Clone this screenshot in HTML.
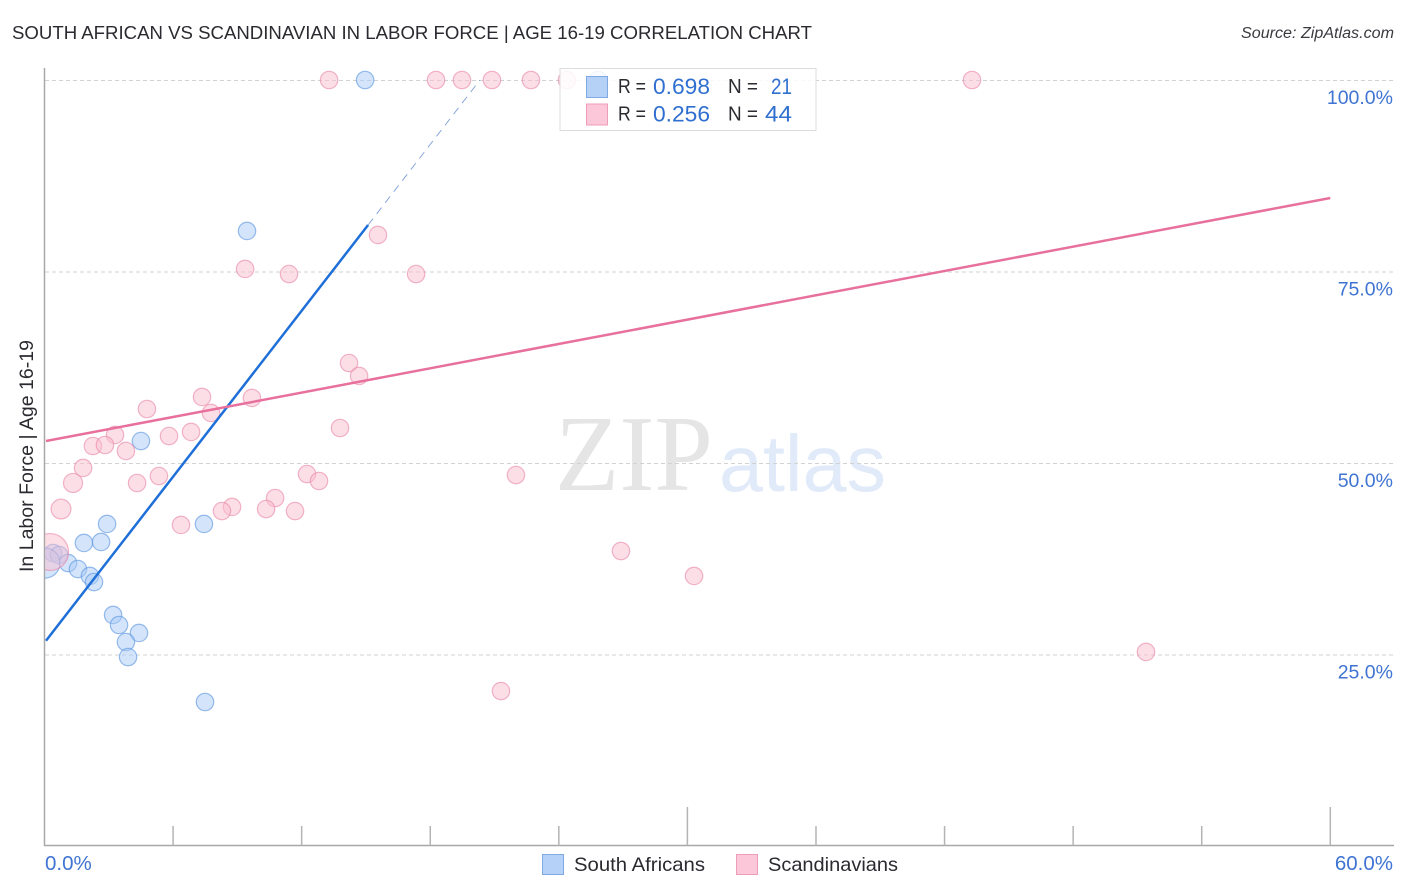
<!DOCTYPE html>
<html lang="en">
<head>
<meta charset="utf-8">
<title>South African vs Scandinavian in Labor Force | Age 16-19 Correlation Chart</title>
<style>
html,body{margin:0;padding:0;background:#fff;width:1406px;height:892px;overflow:hidden}
svg{display:block;font-family:"Liberation Sans",sans-serif}
</style>
</head>
<body>
<svg id="chart" xmlns="http://www.w3.org/2000/svg" width="1406" height="892" viewBox="0 0 1406 892">
  <defs>
    <clipPath id="plot-clip"><rect x="45" y="60" width="1349" height="786"></rect></clipPath>
  </defs>
  <rect width="1406" height="892" fill="#fff"></rect>
  <text x="12" y="39" font-size="18.5" fill="#2a2a30" textLength="800" lengthAdjust="spacingAndGlyphs">SOUTH AFRICAN VS SCANDINAVIAN IN LABOR FORCE | AGE 16-19 CORRELATION CHART</text>
  <text x="1241" y="38" font-size="15.5" font-style="italic" fill="#3a3a40" textLength="153" lengthAdjust="spacingAndGlyphs">Source: ZipAtlas.com</text>
  <g>
    <text x="555" y="490" font-family="'Liberation Serif',serif" font-size="108" fill="#e5e5e5" textLength="158" lengthAdjust="spacingAndGlyphs">ZIP</text>
    <text x="719" y="491" font-size="80" fill="#e0eaf9" textLength="167" lengthAdjust="spacingAndGlyphs">atlas</text>
  </g>
  <g id="grid"></g>
  <g id="axes"></g>
  <g id="points" clip-path="url(#plot-clip)"></g>
  <g id="trends"></g>
  <g id="labels"></g>
  <text transform="translate(33,572) rotate(-90)" font-size="19" fill="#2a2a30" textLength="232" lengthAdjust="spacingAndGlyphs">In Labor Force | Age 16-19</text>

  <g>
    <rect x="560" y="68.5" width="256" height="62" fill="#fff" fill-opacity="0.86" stroke="#dcdcdc" stroke-width="1"></rect>
    <rect x="586.5" y="76.5" width="21" height="21" fill="#a9c9f5" fill-opacity="0.85" stroke="#7fa9e4" stroke-width="1"></rect>
    <rect x="586.5" y="104" width="21" height="21" fill="#fcc8d9" stroke="#ee9db8" stroke-width="1"></rect>
    <g font-size="20" fill="#2a2a30">
      <text x="618" y="93" textLength="28" lengthAdjust="spacingAndGlyphs">R =</text>
      <text x="728" y="93" textLength="30" lengthAdjust="spacingAndGlyphs">N =</text>
      <text x="618" y="120.5" textLength="28" lengthAdjust="spacingAndGlyphs">R =</text>
      <text x="728" y="120.5" textLength="30" lengthAdjust="spacingAndGlyphs">N =</text>
    </g>
    <g font-size="22" fill="#2f6fd0">
      <text x="653" y="94" textLength="57" lengthAdjust="spacingAndGlyphs">0.698</text>
      <text x="771" y="94" textLength="21" lengthAdjust="spacingAndGlyphs">21</text>
      <text x="653" y="121.5" textLength="57" lengthAdjust="spacingAndGlyphs">0.256</text>
      <text x="765" y="121.5" textLength="27" lengthAdjust="spacingAndGlyphs">44</text>
    </g>
  </g>

  <g>
    <rect x="542.5" y="854.5" width="21" height="20" fill="#b5d1f7" stroke="#7fa9e4" stroke-width="1"></rect>
    <text x="574" y="871" font-size="19.5" fill="#2a2a30" textLength="131" lengthAdjust="spacingAndGlyphs">South Africans</text>
    <rect x="736.5" y="854.5" width="21" height="20" fill="#fcc8d9" stroke="#ee9db8" stroke-width="1"></rect>
    <text x="768" y="871" font-size="19.5" fill="#2a2a30" textLength="130" lengthAdjust="spacingAndGlyphs">Scandinavians</text>
  </g>
</svg>
<script>
// Chart values (x and y are percentages)
const xTickValues = [0, 6, 12, 18, 24, 30, 36, 42, 48, 54, 60];
const xMajorTicks = [30, 60];
const xTickLabelValues = [0, 60];
const xTickLabels = ["0.0%", "60.0%"];
const yTickValues = [100, 75, 50, 25];
const yTickLabels = ["100.0%", "75.0%", "50.0%", "25.0%"];

const southAfricansX = [14.96, 9.45, 4.50, 2.92, 7.44, 1.84, 2.64, 0.40, 0.68, 0.02, 1.10, 1.56, 2.12, 2.31, 3.20, 3.48, 4.41, 3.80, 3.90, 7.49, 25.83];
const southAfricansY = [100, 80.29, 52.87, 42.04, 42.04, 39.56, 39.69, 38.25, 37.99, 36.94, 36.94, 36.16, 35.25, 34.46, 30.16, 28.85, 27.81, 26.63, 24.67, 18.80, 100];
const southAfricansWeight = [1, 1, 1, 1, 1, 1, 1, 1, 1, 3, 1, 1, 1, 1, 1, 1, 1, 1, 1, 1, 1];

const scandinaviansX = [13.28, 18.27, 19.48, 20.88, 22.70, 24.38, 43.28, 15.56, 9.36, 11.41, 17.34, 14.21, 14.68, 7.35, 9.68, 4.78, 7.77, 13.79, 3.29, 5.81, 6.84, 2.26, 2.82, 3.80, 1.80, 1.33, 5.34, 4.32, 12.25, 12.81, 22.00, 10.76, 8.75, 8.28, 10.34, 11.69, 0.77, 6.37, 26.90, 30.31, 0.26, 51.40, 21.30];
const scandinaviansY = [100, 100, 100, 100, 100, 100, 100, 79.77, 75.33, 74.67, 74.67, 63.05, 61.36, 58.62, 58.49, 57.05, 56.53, 54.57, 53.66, 53.52, 54.05, 52.22, 52.35, 51.57, 49.35, 47.39, 48.30, 47.39, 48.56, 47.65, 48.43, 45.43, 44.26, 43.73, 43.99, 43.73, 43.99, 41.91, 38.51, 35.25, 38.38, 25.33, 20.23];
const scandinaviansWeight = [1, 1, 1, 1, 1, 1, 1, 1, 1, 1, 1, 1, 1, 1, 1, 1, 1, 1, 1, 1, 1, 1, 1, 1, 1, 1.2, 1, 1, 1, 1, 1, 1, 1, 1, 1, 1, 1.3, 1, 1, 1, 4.5, 1, 1];

const southAfricansTrendX = [0.07, 15.1];
const southAfricansTrendY = [26.8, 81.07];
const southAfricansExtensionX = [15.1, 20.32];
const southAfricansExtensionY = [81.07, 100];
const scandinaviansTrendX = [0.07, 60];
const scandinaviansTrendY = [52.87, 84.6];

const NS = "http://www.w3.org/2000/svg";
function xScale(v) { return 44.5 + v * 21.43; }
function yScale(v) { return 846 - v * 7.66; }
function rScale(w) { return 8.7 * Math.sqrt(w); }
function make(parent, tag, attrs) {
  const el = document.createElementNS(NS, tag);
  for (const k in attrs) el.setAttribute(k, attrs[k]);
  parent.appendChild(el);
  return el;
}
const gridG = document.getElementById("grid");
const axesG = document.getElementById("axes");
const pointsG = document.getElementById("points");
const trendsG = document.getElementById("trends");
const labelsG = document.getElementById("labels");

yTickValues.forEach(function (v) {
  const el = make(gridG, "line", {x1: 45, x2: 1394, y1: yScale(v) + 0.5, y2: yScale(v) + 0.5, stroke: "#d2d2d2", "stroke-width": 1, "stroke-dasharray": "4 3"});
  
  
});

const yAxisLine = make(axesG, "line", {x1: 44.5, x2: 44.5, y1: 68, y2: 846, stroke: "#a8a8a8", "stroke-width": 1.5});


const xAxisLine = make(axesG, "line", {x1: 44, x2: 1394, y1: 845.5, y2: 845.5, stroke: "#a8a8a8", "stroke-width": 1.5});



xTickValues.forEach(function (v) {
  if (v === 0) return;
  const top = xMajorTicks.indexOf(v) >= 0 ? 807 : 826;
  const el = make(axesG, "line", {x1: xScale(v), x2: xScale(v), y1: top, y2: 845.5, stroke: "#b4b4b4", "stroke-width": 1.5});
  
  
});

function drawSeries(xs, ys, ws, fill, stroke, name) {
  xs.forEach(function (x, i) {
    const el = make(pointsG, "circle", {cx: xScale(x), cy: yScale(ys[i]), r: rScale(ws[i]), fill: fill, "fill-opacity": 0.5, stroke: stroke, "stroke-opacity": 0.62, "stroke-width": 1.2});
    
    
  });
}
drawSeries(southAfricansX, southAfricansY, southAfricansWeight, "#a9c9f5", "#5b94e0", "point-south-africans");
drawSeries(scandinaviansX, scandinaviansY, scandinaviansWeight, "#f9bdd0", "#e888a8", "point-scandinavians");

const saTrend = make(trendsG, "line", {x1: xScale(southAfricansTrendX[0]), y1: yScale(southAfricansTrendY[0]), x2: xScale(southAfricansTrendX[1]), y2: yScale(southAfricansTrendY[1]), stroke: "#1f6fd8", "stroke-width": 2.5});


const saExt = make(trendsG, "line", {x1: xScale(southAfricansExtensionX[0]), y1: yScale(southAfricansExtensionY[0]), x2: xScale(southAfricansExtensionX[1]), y2: yScale(southAfricansExtensionY[1]), stroke: "#7f9fd8", "stroke-width": 0.9, "stroke-dasharray": "8 6"});


const scTrend = make(trendsG, "line", {x1: xScale(scandinaviansTrendX[0]), y1: yScale(scandinaviansTrendY[0]), x2: xScale(scandinaviansTrendX[1]), y2: yScale(scandinaviansTrendY[1]), stroke: "#e8709c", "stroke-width": 2.5});



yTickValues.forEach(function (v, i) {
  const el = make(labelsG, "text", {x: 1393, y: yScale(v) + 24, "text-anchor": "end", "font-size": 19.5, fill: "#3f74d2"});
  el.textContent = yTickLabels[i];
  
  
});
xTickLabelValues.forEach(function (v, i) {
  const el = make(labelsG, "text", {x: i === 0 ? 45 : 1393, y: 870, "text-anchor": i === 0 ? "start" : "end", "font-size": 20.5, fill: "#3f74d2"});
  el.textContent = xTickLabels[i];
  
  
});
</script>
</body>
</html>
